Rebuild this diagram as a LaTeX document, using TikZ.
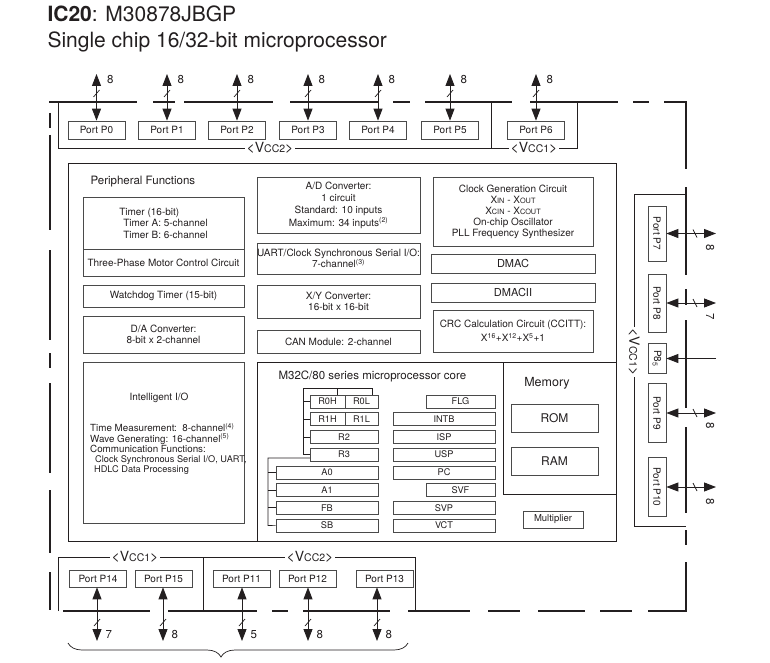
\documentclass[tikz,border=0pt]{standalone}
\usepackage{fontspec}
\setmainfont{TeX Gyre Heros}
\usetikzlibrary{positioning,arrows.meta,calc,decorations.pathreplacing}
\definecolor{ink}{HTML}{231F20}
\definecolor{edge}{HTML}{4A4A4A}
\newcommand{\sm}[1]{{\fontsize{7.3}{8}\selectfont #1}}
\newcommand{\vcc}[1]{{\fontsize{14}{15}\selectfont<V}{\fontsize{10.5}{11}\selectfont CC#1}{\fontsize{14}{15}\selectfont>}}

\begin{document}
\begin{tikzpicture}[
    x=1pt, y=-1pt,
    every node/.style={text=ink, font=\fontsize{10}{11.5}\selectfont},
    blk/.style={draw=edge, line width=0.7pt, inner sep=0.5pt, align=center},
    port/.style={blk, minimum width=57, minimum height=18},
    vport/.style={port, rotate=-90},
    reg/.style={draw=edge, line width=0.6pt, minimum height=13, inner sep=0pt,
        font=\fontsize{9.2}{10}\selectfont},
    chip/.style={line width=1.6pt, draw=ink},
    wire/.style={line width=0.7pt, draw=ink},
    bus/.style={{Triangle[length=12pt,width=9pt]}-{Triangle[length=12pt,width=9pt]}, line width=0.9pt, draw=ink},
    inbus/.style={-{Triangle[length=12pt,width=9pt]}, line width=0.9pt, draw=ink},
    slash/.style={line width=0.7pt, draw=ink},
    buswidth/.style={font=\fontsize{11.5}{12}\selectfont},
    rail/.style={fill=white, inner sep=1.5pt},
    heading/.style={font=\fontsize{11.5}{13}\selectfont},
]

\fill[white] (0,0) rectangle (770,663);
\useasboundingbox (0,0) rectangle (770,663);

% Title
\node[anchor=base west, font=\fontsize{21}{24}\selectfont] (title) at (44,22) {\textbf{IC20}: M30878JBGP};
\node[anchor=base west, font=\fontsize{21}{24}\selectfont] (subtitle) at (44,48) {Single chip 16/32-bit microprocessor};

% Chip outline (broken line)
\foreach \a/\b in {49/137,153/175,184/273,290/378,393/410,425/512,530/618,633/649}
    \draw[chip] (\a,102) -- (\b,102);
\draw[chip] (664,102) -| (686,169);
\foreach \a/\b in {187/275,289/305,320/408,427/513,530/545}
    \draw[chip] (686,\a) -- (686,\b);
\draw[chip] (686,562) |- (648,611);
\foreach \a/\b in {63/150,168/257,272/288,303/390,408/470,488/520,538/585,600/632}
    \draw[chip] (\a,611) -- (\b,611);
\foreach \a/\b in {113/128,135/230,250/340,353/368,383/473,490/553,572/610}
    \draw[chip] (50,\a) -- (50,\b);

% Top ports
\draw[wire] (58,102) |- (577,148) -- (577,102);
\draw[wire] (491,102) -- (491,148);
\node[rail] (vcc2top) at (270,148) {\vcc2};
\node[rail] (vcc1top) at (534,148) {\vcc1};
\foreach \n/\x in {0/96.5,1/167,2/237,3/308,4/378,5/450,6/536}{
    \node[port] (P\n) at (\x,130) {Port P\n};
    \coordinate (P\n-t) at (\x,74);
    \draw[bus] (P\n.north) -- (P\n-t);
    \draw[slash] (\x-3,97) -- (\x+3,90);
    \node[buswidth, anchor=west] (P\n-w) at (\x+7,80) {8};
}

% Peripheral functions
\draw[wire] (68,163) rectangle (616,541);
\node[heading, anchor=west] (perif) at (87,182) {Peripheral Functions};

\node[blk, minimum width=161, minimum height=52, align=left] (timer) at (163.5,223)
    {Timer (16-bit)\\\hspace*{4pt}Timer A: 5-channel\\\hspace*{4pt}Timer B: 6-channel};
\node[blk, minimum width=161, minimum height=27] (motor) at (163.5,262.5) {Three-Phase Motor Control Circuit};
\node[blk, minimum width=161, minimum height=22] (wdt) at (163.5,296) {Watchdog Timer (15-bit)};
\node[blk, minimum width=161, minimum height=37] (dac) at (163.5,334.5) {D/A Converter:\\8-bit x 2-channel};

\node[blk, minimum width=163, minimum height=56, font=\fontsize{10}{12.3}\selectfont] (adc) at (338.5,205)
    {A/D Converter:\\1 circuit\\Standard: 10 inputs\\Maximum: 34 inputs\textsuperscript{(2)}};
\node[blk, minimum width=163, minimum height=31, inner sep=0pt] (uart) at (338.5,258.5)
    {UART/Clock Synchronous Serial I/O:\\7-channel\textsuperscript{(3)}};
\node[blk, minimum width=163, minimum height=33] (xyc) at (338.5,301.5) {X/Y Converter:\\16-bit x 16-bit};
\node[blk, minimum width=163, minimum height=23] (can) at (338.5,341.5) {CAN Module: 2-channel};

\node[blk, minimum width=160, minimum height=69, font=\fontsize{10}{11}\selectfont] (clock) at (513,211.5)
    {Clock Generation Circuit\\X\sm{IN} - X\sm{OUT}\\X\sm{CIN} - X\sm{COUT}\\On-chip Oscillator\\PLL Frequency Synthesizer};
\node[blk, minimum width=164, minimum height=19, font=\fontsize{11}{12}\selectfont] (dmac) at (513,263.5) {DMAC};
\node[blk, minimum width=164, minimum height=19, font=\fontsize{11}{12}\selectfont] (dmacii) at (513,292.5) {DMACII};
\node[blk, minimum width=160, minimum height=42, font=\fontsize{10}{14}\selectfont] (crc) at (513,331)
    {CRC Calculation Circuit (CCITT):\\X\textsuperscript{16}+X\textsuperscript{12}+X\textsuperscript{5}+1};

% Intelligent I/O
\node[blk, minimum width=161, minimum height=161] (iio) at (163.5,442.5) {};
\node (iiotitle) at (159,398) {Intelligent I/O};
\node[align=left, anchor=north west, inner sep=0pt, font=\fontsize{9.8}{10.2}\selectfont] (iiobody) at (90,423)
    {Time Measurement:~~8-channel\textsuperscript{(4)}\\
     Wave Generating: 16-channel\textsuperscript{(5)}\\
     Communication Functions:\\
     {\fontsize{9.2}{10.2}\selectfont\hspace*{5pt}Clock Synchronous Serial I/O, UART,}\\
     {\fontsize{9.2}{10.2}\selectfont\hspace*{4pt}HDLC Data Processing}};

% Processor core
\draw[wire] (257,362) rectangle (616,541);
\draw[wire] (503,362) |- (616,494);
\node[heading, anchor=west] (coretitle) at (275,376) {M32C/80 series microprocessor core};
\node[heading, font=\fontsize{12.5}{14}\selectfont] (memtitle) at (547,383) {Memory};
\node[blk, minimum width=87, minimum height=28, font=\fontsize{12}{13}\selectfont] (rom) at (554.5,418) {ROM};
\node[blk, minimum width=87, minimum height=28, font=\fontsize{12}{13}\selectfont] (ram) at (554.5,461) {RAM};
\node[blk, minimum width=60, minimum height=17, font=\fontsize{9.5}{11}\selectfont] (mult) at (553,519.5) {Multiplier};

% Registers
\foreach \nm/\r/\xa/\xb in {R0H/0/310/345,R0L/0/345/378,R1H/1/310/345,R1L/1/345/378,
        R2/2/310/378,R3/3/310/378,A0/4/276/378,A1/5/276/378,FB/6/276/378,SB/7/276/378,
        FLG/0/426/495,INTB/1/393/495,ISP/2/393/495,USP/3/393/495,PC/4/393/495,
        SVF/5/426/495,SVP/6/393/495,VCT/7/393/495}{
    \pgfmathsetmacro{\regw}{\xb-\xa}
    \pgfmathsetmacro{\regx}{(\xa+\xb)/2}
    \pgfmathsetmacro{\regy}{401.5+17.7*\r}
    \node[reg, minimum width=\regw] (\nm) at (\regx,\regy) {\nm};
}
\draw[wire, line width=0.6pt] (R3.west) -| (303,388) -| (372,395);
\draw[wire, line width=0.6pt] (337,388) -- (337,395);
\foreach \nm in {R0H,R1H,R2}
    \draw[wire, line width=0.6pt] (\nm.west) -- ++(-7,0);
\draw[wire, line width=0.6pt] (310,458) -| (268,525.5) -- (SB.west);
\foreach \nm in {A0,A1,FB}
    \draw[wire, line width=0.6pt] (\nm.west) -- ++(-8,0);

% Right ports
\draw[wire] (686,194) -- (634,194) -- (634,526) -- (686,526);
\node[rail, rotate=-90] (vcc1right) at (634,352) {\vcc1};
\foreach \n/\y/\len/\lab/\ly in {7/233.5/55/8/248,8/303/58/7/317,9/413/59/8/426,10/487/59/8/502}{
    \node[vport, minimum width=\len] (P\n) at (657,\y) {Port P\n};
    \coordinate (P\n-t) at (716,\y);
    \draw[bus] (P\n.north) -- (P\n-t);
    \draw[slash] (693,\y-4) -- (697,\y+4);
    \node[buswidth, rotate=-90] (P\n-w) at (710,\ly) {\lab};
}
\node[vport, minimum width=30] (P85) at (657,358.5) {P8\textsubscript{5}};
\coordinate (P85-t) at (716,358.5);
\draw[inbus] (P85-t) -- (P85.north);

% Bottom ports
\draw[wire] (58,611) |- (415,557) -- (415,611);
\draw[wire] (203,557) -- (203,611);
\node[rail] (vcc1bot) at (135,557) {\vcc1};
\node[rail] (vcc2bot) at (310,557) {\vcc2};
\foreach \n/\x/\ax/\lab in {14/98/97/7,15/163.5/163/8,11/241.5/242/5,12/307.5/308/8,13/384.5/377/8}{
    \node[port, minimum height=17] (P\n) at (\x,578.5) {Port P\n};
    \coordinate (P\n-t) at (\ax,641);
    \draw[bus] (P\n.south -| P\n-t) -- (P\n-t);
    \draw[slash] (\ax-3,626) -- (\ax+3,619);
    \node[buswidth, anchor=west] (P\n-w) at (\ax+5,635) {\lab};
}
\coordinate (braceL) at (68,643);
\coordinate (braceR) at (408,643);
\draw[wire, decorate, decoration={brace, mirror, amplitude=14pt, aspect=0.45}] (braceL) -- (braceR);

\end{tikzpicture}
\end{document}
